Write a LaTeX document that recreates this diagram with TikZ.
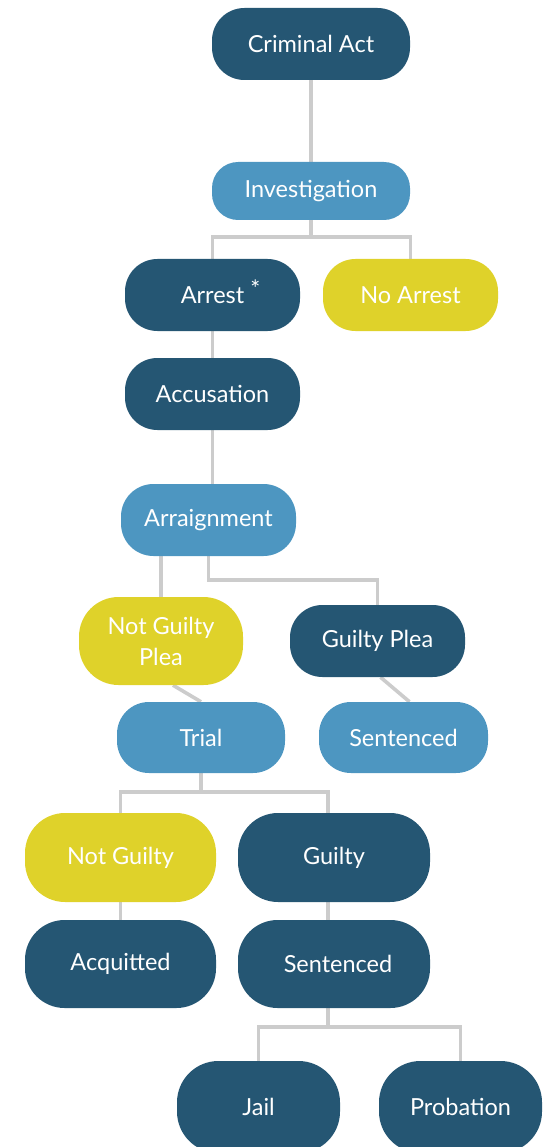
\documentclass[tikz,border=0pt]{standalone}
\usepackage{fontspec}
\setmainfont{Lato}
\usetikzlibrary{backgrounds}
\definecolor{dk}{RGB}{37,86,115}
\definecolor{lt}{RGB}{77,150,193}
\definecolor{yl}{RGB}{223,210,42}
\definecolor{wire}{RGB}{204,204,204}
\begin{document}
\begin{tikzpicture}[x=1pt, y=-1pt, font=\fontsize{23.5}{31}\selectfont, line join=round, line cap=round,
  pill/.style={rectangle, fill=#1, text=white, inner sep=0pt, align=center},
  link/.style={color=wire, line width=3.6pt}]
\useasboundingbox (0,0) rectangle (546,1147);
\foreach \n/\x/\y/\w/\h/\col/\txt in {crim/311/44/198/72/dk/Criminal Act, inv/311/191/198/58/lt/Investigation,
  arr/212.5/295/175/72/dk/{\hspace{16pt}Arrest\hspace{6pt}\smash{\raisebox{6pt}{*}}}, noarr/410.5/295/175/72/yl/No Arrest,
  acc/212.5/394/175/72/dk/Accusation, arrg/208.5/520/175/72/lt/Arraignment,
  ngp/161/641/164/88/yl/{Not Guilty\\Plea}, gp/377.5/641/175/72/dk/Guilty Plea,
  trial/201/737.5/168/71/lt/Trial, sen1/403.5/737.5/169/71/lt/Sentenced,
  ng/120.5/857.5/191/89/yl/Not Guilty, gu/334/857.5/192/89/dk/Guilty,
  acq/120.5/964/191/88/dk/Acquitted, sen2/334/964/192/88/dk/{\hspace{8pt}Sentenced},
  jail/258.5/1107/163/92/dk/Jail, prob/460.5/1107/163/92/dk/Probation}
  {\pgfmathsetmacro\rad{0.45*\h}
   \node[pill=\col, minimum width=\w pt, minimum height=\h pt, rounded corners=\rad pt] (\n) at (\x,\y) {\txt};}
\begin{pgfonlayer}{background}
\begin{scope}[link]
\draw (crim) -- (inv);
\draw (inv) -- (inv |- 0,237) coordinate (j1);
\draw (arr) |- (j1) -| (noarr);
\draw (arr) -- (acc) -- (acc |- arrg);
\draw (ngp) -- (ngp |- arrg);
\draw (arrg) -- (arrg |- 0,580) -| (gp);
\draw ([xshift=12pt]ngp.south) -- (trial.north);
\draw ([xshift=3pt]gp.south) -- ([xshift=6pt]sen1.north);
\draw (trial) -- (trial |- 0,792) coordinate (j2);
\draw (ng) |- (j2) -| ([xshift=-6pt]gu.center);
\draw (ng) -- (acq);
\draw ([xshift=-6pt]gu.center) -- ([xshift=-6pt]sen2.south) -- ++(0,19) coordinate (j3);
\draw (jail) |- (j3) -| (prob);
\end{scope}
\end{pgfonlayer}
\end{tikzpicture}
\end{document}
